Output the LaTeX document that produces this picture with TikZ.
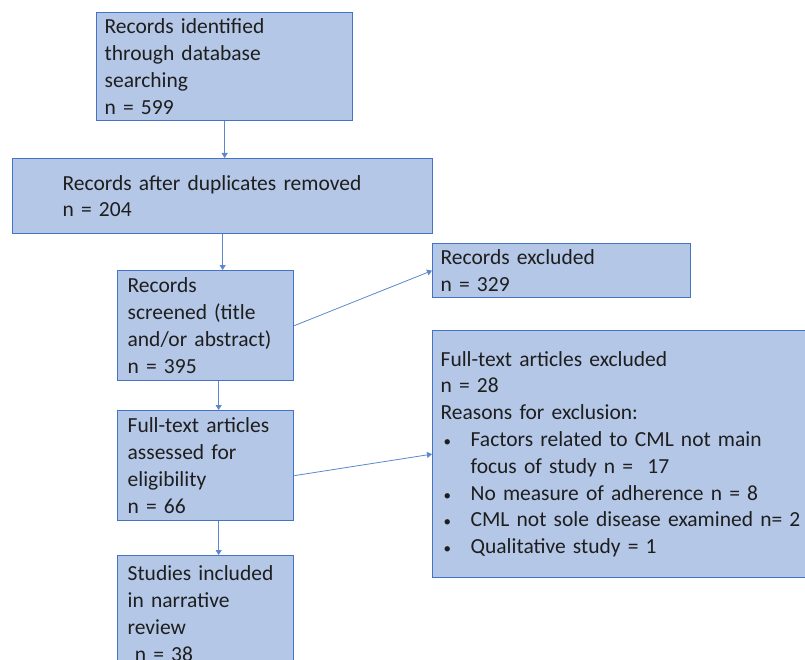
\documentclass[tikz,border=0pt]{standalone}
\usepackage{fontspec}
\setmainfont{Carlito}
\usetikzlibrary{arrows.meta}

\definecolor{boxfill}{RGB}{180,199,231}
\definecolor{boxline}{RGB}{68,114,196}
\definecolor{arrline}{RGB}{91,135,205}
\definecolor{txtcol}{RGB}{30,30,30}

\newcommand{\bulitem}{\hspace*{3pt}\makebox[27pt][l]{\fontsize{15}{15}\selectfont\textbullet}}

\tikzset{every picture/.style={line width=0.75pt}}
\tikzset{
  flowbox/.style={draw=boxline, fill=boxfill, line width=1.3pt, anchor=north west,
    inner xsep=0pt, inner ysep=0pt, align=left, text=txtcol,
    font=\fontsize{21.5}{26.8}\selectfont},
  flowarr/.style={draw=arrline, line width=0.8pt, -{Triangle[width=6pt,length=5pt]}}
}

\begin{document}
\begin{tikzpicture}[x=1pt,y=1pt,yscale=-1,xscale=1]
	\useasboundingbox (0,0) rectangle (805,660);

	% Text Node
	\node [flowbox, minimum width=256, minimum height=108, text width=240] (ident) at (96,12)
	  {Records identified\\through database\\searching\\n = 599};
	% Text Node
	\node [flowbox, minimum width=420, minimum height=75, text width=320] (dupl) at (12,158)
	  {Records~after~duplicates~removed\\n = 204};
	% Text Node
	\node [flowbox, minimum width=176, minimum height=110, text width=156] (screen) at (117,270)
	  {Records\\screened~(title\\and/or~abstract)\\n = 395};
	% Text Node
	\node [flowbox, minimum width=258, minimum height=54, text width=242] (recex) at (432,243)
	  {Records excluded\\n = 329};
	% Text Node
	\node [flowbox, minimum width=176, minimum height=110, text width=156] (elig) at (117,410)
	  {Full-text~articles\\assessed for\\eligibility\\n = 66};
	% Text Node
	\node [flowbox, minimum width=376, minimum height=247, text width=360] (ftex) at (432,330)
	  {Full-text articles excluded\\n = 28\\Reasons for exclusion:\\
	   \bulitem Factors related to CML not main\\
	   \hspace*{30pt}focus of study n =\ \ 17\\
	   \bulitem No measure of adherence n = 8\\
	   \bulitem CML~not~sole~disease~examined~n=~2\\
	   \bulitem Qualitative study = 1};
	% Text Node
	\node [flowbox, minimum width=176, minimum height=116, text width=156] (incl) at (117,555)
	  {Studies~included\\in narrative\\review\\\ n = 38};

	%Straight Lines
	\draw [flowarr] (ident.south) -- (ident.south |- dupl.north);
	%Straight Lines
	\draw [flowarr] ([xshift=17pt]screen.north |- dupl.south) -- ([xshift=17pt]screen.north);
	%Straight Lines
	\draw [flowarr] ([xshift=13pt]screen.south) -- ([xshift=13pt]screen.south |- elig.north);
	%Straight Lines
	\draw [flowarr] ([xshift=13pt]elig.south) -- ([xshift=13pt]elig.south |- incl.north);
	%Straight Lines
	\draw [flowarr] (screen.east) -- (recex.west);
	%Straight Lines
	\draw [flowarr] ([yshift=10pt]elig.east) -- (ftex.west);

\end{tikzpicture}
\end{document}
